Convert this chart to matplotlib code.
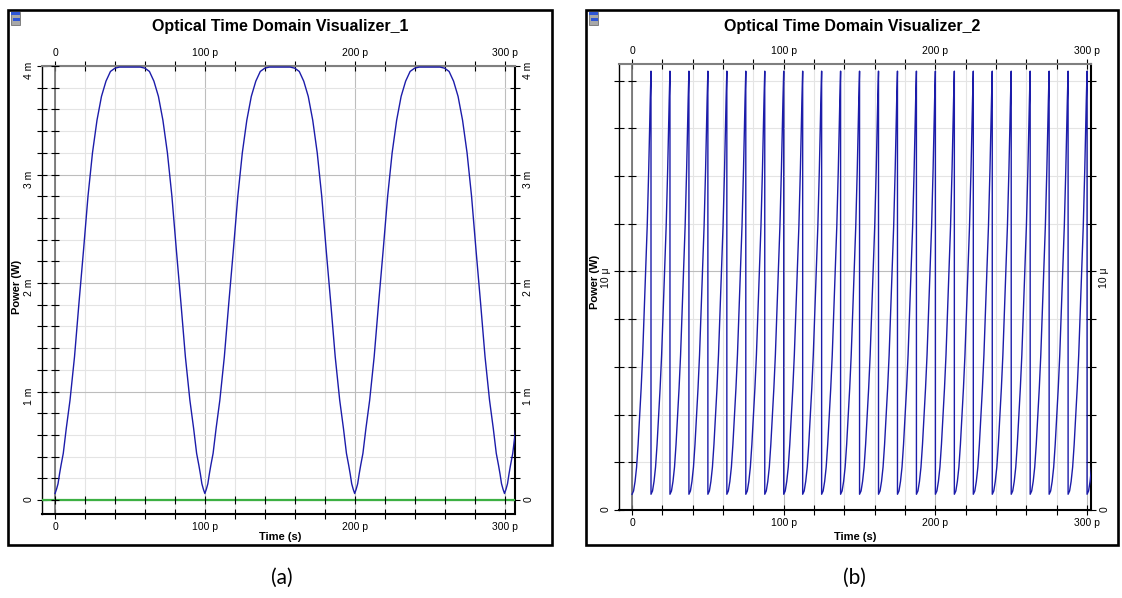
import matplotlib
matplotlib.use("Agg")
import matplotlib.pyplot as plt
import numpy as np
from matplotlib.patches import Rectangle
from matplotlib.ticker import MultipleLocator, FuncFormatter

plt.rcParams['font.family'] = ['Liberation Sans', 'DejaVu Sans']

# (a) one period of the visualizer_1 trace: time in ps, power in mW
pulse_a_t = [0, 1, 2, 3, 4, 5.5, 7.5, 10, 13, 16, 19, 22, 25, 28, 31, 34, 37, 40, 43,
             57, 60, 63, 66, 69, 72, 75, 78, 81, 84, 87, 90, 92.5, 94.5, 96, 97, 98, 99, 100]
pulse_a_p = [0.06, 0.10, 0.15, 0.24, 0.32, 0.43, 0.66, 0.92, 1.32, 1.82, 2.30, 2.80, 3.20, 3.50, 3.72, 3.86, 3.95, 3.98, 3.99,
             3.99, 3.98, 3.95, 3.86, 3.72, 3.50, 3.20, 2.80, 2.30, 1.82, 1.32, 0.92, 0.66, 0.43, 0.32, 0.24, 0.15, 0.10, 0.06]
starts_a = [0, 100, 200, 300]
zero_level_a = 0.0  # green trace

# (b) one sawtooth pulse of visualizer_2: time in ps, power in uW
pulse_b_t = [0, 1, 2, 3, 4, 5, 6, 7, 8, 9, 10, 11, 12, 12.5]
pulse_b_p = [0.66, 0.8, 1.2, 1.8, 2.75, 3.9, 5.1, 6.5, 8.3, 10.1, 11.9, 14.3, 17.2, 18.4]
starts_b = [0, 12.5, 25, 37.5, 50, 62.5, 75, 87.5, 100, 112.5, 125, 137.5, 150,
            162.5, 175, 187.5, 200, 212.5, 225, 237.5, 250, 262.5, 275, 287.5, 300]

titles = ["Optical Time Domain Visualizer_1", "Optical Time Domain Visualizer_2"]
captions = ["(a)", "(b)"]

W, H = 1122, 598
fig = plt.figure(figsize=(W / 100, H / 100), dpi=100)
fig.patch.set_facecolor('white')

# overlay in pixel coords for frames / titles / labels
bg = fig.add_axes([0, 0, 1, 1])
bg.set_xlim(0, W)
bg.set_ylim(H, 0)
bg.axis('off')


def px_axes(x0, y0, x1, y1):
    return fig.add_axes([x0 / W, 1 - y1 / H, (x1 - x0) / W, (y1 - y0) / H])


def build(starts, tt, pp):
    t_all, p_all = [], []
    for s in starts:
        t_all += [s + v for v in tt]
        p_all += pp
    return t_all, p_all


def style(ax, unit, ymajor, yminor):
    ax.xaxis.set_major_locator(MultipleLocator(100))
    ax.xaxis.set_minor_locator(MultipleLocator(20))
    ax.yaxis.set_major_locator(MultipleLocator(ymajor))
    ax.yaxis.set_minor_locator(MultipleLocator(yminor))
    ax.xaxis.set_major_formatter(FuncFormatter(lambda v, p: "0" if abs(v) < 1e-9 else f"{v:g} p"))
    ax.yaxis.set_major_formatter(FuncFormatter(lambda v, p: "0" if abs(v) < 1e-9 else f"{v:g} {unit}"))
    ax.grid(which='minor', color='#e4e4e4', lw=0.8)
    ax.grid(which='major', color='#bdbdbd', lw=0.8)
    ax.set_axisbelow(True)
    ax.tick_params(axis='x', which='both', top=True, labeltop=True, bottom=True, labelbottom=True)
    ax.tick_params(axis='y', which='both', left=True, right=True, labelleft=True, labelright=True,
                   labelrotation=90)
    ax.tick_params(which='both', direction='inout', length=7, width=0.8, color='black',
                   labelsize=7.5, pad=2.5)
    ax.spines['top'].set(color='#7f7f7f', lw=1.5)
    ax.spines['left'].set(color='black', lw=1.0)
    ax.spines['right'].set(color='black', lw=1.5, ls=(0, (1, 1)))
    ax.spines['bottom'].set(color='black', lw=1.5, ls=(0, (1, 1)))
    ax.axvline(0, color='#6e6e6e', lw=1.2, zorder=1.5)
    ylo, yhi = ax.get_ylim()
    yt = np.arange(0, yhi + 1e-9, yminor)
    ax.plot(np.zeros_like(yt), yt, ls='none', marker='_', ms=6, mew=0.8, color='black', zorder=3)


def frame(x0, y0, x1, y1, title, cap, time_x, power_xy):
    bg.add_patch(Rectangle((x0, y0), x1 - x0, y1 - y0, fill=False, lw=1.9, ec='black'))
    # small window icon
    bg.add_patch(Rectangle((x0 + 3, y0 + 2), 9, 13, fc='#a8a8a8', ec='#606060', lw=0.5))
    bg.add_patch(Rectangle((x0 + 3, y0 + 2), 9, 3, fc='#2f56d6', ec='none'))
    bg.add_patch(Rectangle((x0 + 5, y0 + 8), 7, 2.5, fc='#2f56d6', ec='none'))
    bg.text((x0 + x1) / 2, y0 + 16, title, ha='center', va='center', fontsize=11.5, weight='bold')
    bg.text(time_x, 537, "Time (s)", ha='center', va='center', fontsize=8, weight='bold')
    bg.text(power_xy[0], power_xy[1], "Power (W)", ha='center', va='center', fontsize=8,
            weight='bold', rotation=90)
    bg.text((x0 + x1) / 2 + 2, 578, cap, ha='center', va='center', fontsize=15,
            family=['Lato', 'DejaVu Sans'])


# ---- panel (a)
frame(8, 10, 552, 545, titles[0], captions[0], 280, (17, 287))
ax1 = px_axes(42, 66, 515, 514)
ta, pa = build(starts_a, pulse_a_t, pulse_a_p)
ax1.set_xlim(-8.7, 307)
ax1.set_ylim(-0.129, 4.0)
ax1.plot(ta, pa, color='#1c1caa', lw=1.0, zorder=4)
ax1.axhline(zero_level_a, color='#3cb043', lw=1.6, zorder=3)
xt = np.arange(0, 301, 20)
ax1.plot(xt, np.zeros_like(xt), ls='none', marker='|', ms=6, mew=0.8, color='black', zorder=4)
style(ax1, 'm', 1, 0.2)

# ---- panel (b)
frame(586, 10, 1118, 545, titles[1], captions[1], 855, (595, 282))
ax2 = px_axes(619, 64, 1091, 510)
tb, pb = build(starts_b, pulse_b_t, pulse_b_p)
ax2.set_xlim(-8.6, 302.6)
ax2.set_ylim(0, 18.7)
ax2.plot(tb, pb, color='#1c1caa', lw=1.0, zorder=4)
style(ax2, 'μ', 10, 2)

fig.savefig('out.png', dpi=100, facecolor='white')
